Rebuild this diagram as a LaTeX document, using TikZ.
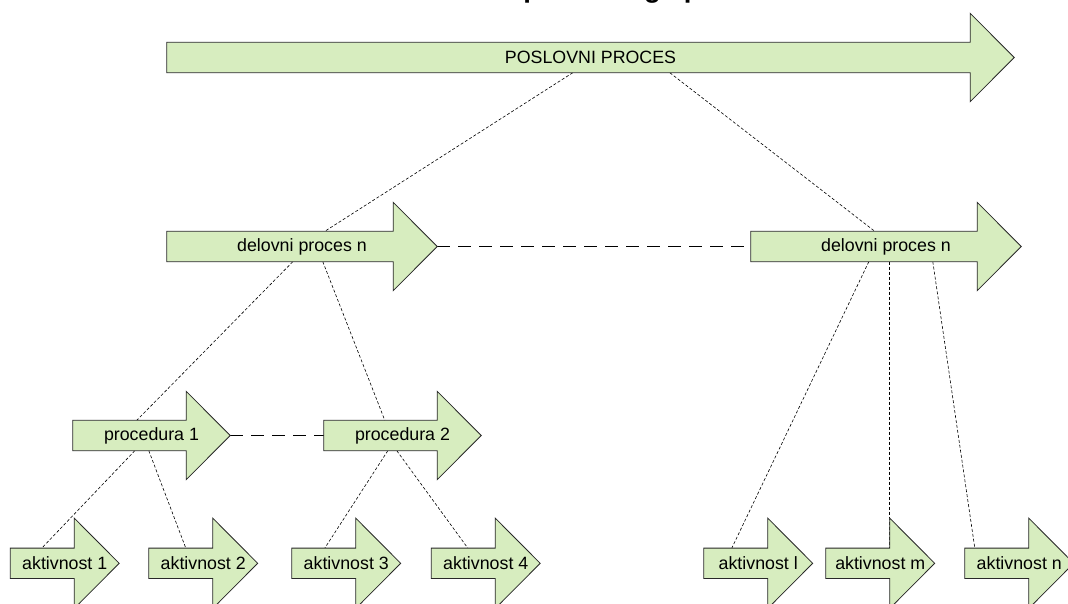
\documentclass[tikz,border=0pt]{standalone}
\usepackage{fontspec}
\setmainfont{Liberation Sans}
\pgfdeclarelayer{paper}
\pgfdeclarelayer{lines}
\pgfdeclarelayer{shapes}
\pgfsetlayers{paper,lines,shapes,main}
\definecolor{arrowfill}{RGB}{215,237,191}
\definecolor{arrowline}{RGB}{40,40,40}
\tikzset{
  lbl/.style={rectangle, inner sep=0pt, minimum height=30pt,
    font=\fontsize{17.8}{20}\selectfont},
  arrowbody/.style={fill=arrowfill, draw=arrowline, line width=0.8pt, line join=miter},
  link/.style={draw=black, line width=0.6pt, dash pattern=on 3pt off 2pt},
  peer/.style={draw=black, line width=1.3pt, dash pattern=on 13pt off 8pt},
}
% #1 name, #2 left x, #3 axis y, #4 total length, #5 head length,
% #6 head overhang beyond the body, #7 label
\newcommand\flowarrow[7]{%
  \node[lbl, minimum width=#4pt] (#1) at ({#2+#4/2},#3) {#7};
  \begin{pgfonlayer}{shapes}
    \draw[arrowbody] (#1.north west) -- ([xshift=-#5pt]#1.north east)
      -- ([xshift=-#5pt,yshift=#6pt]#1.north east) -- (#1.east)
      -- ([xshift=-#5pt,yshift=-#6pt]#1.south east)
      -- ([xshift=-#5pt]#1.south east) -- (#1.south west) -- cycle;
  \end{pgfonlayer}
}
\begin{document}
\begin{tikzpicture}[x=1pt, y=-1pt]
\useasboundingbox (0,0) rectangle (1068,603);
\begin{pgfonlayer}{paper}
  \fill[white] (0,0) rectangle (1068,603);
\end{pgfonlayer}

% heading, mostly above the page edge
\node[anchor=base, inner sep=0pt, font=\fontsize{27.5}{30}\selectfont\bfseries]
  (heading) at (599,-2.4) {Členitev poslovnega procesa};

% process levels
\flowarrow{pp}{167}{57.5}{847}{44}{29}{POSLOVNI PROCES}
\flowarrow{dpL}{167}{246.5}{270}{44}{29}{delovni proces n}
\flowarrow{dpR}{751}{246.5}{270}{44}{29}{delovni proces n}
\flowarrow{pr1}{73}{435.5}{157}{44}{29}{procedura 1}
\flowarrow{pr2}{324}{435.5}{157}{44}{29}{procedura 2}
\flowarrow{a1}{10.5}{563.3}{108.5}{45}{30}{aktivnost 1}
\flowarrow{a2}{149}{563.3}{108.5}{45}{30}{aktivnost 2}
\flowarrow{a3}{292}{563.3}{108.5}{45}{30}{aktivnost 3}
\flowarrow{a4}{431.5}{563.3}{108.5}{45}{30}{aktivnost 4}
\flowarrow{al}{704}{563.3}{108.5}{45}{30}{aktivnost l}
\flowarrow{am}{826}{563.3}{108.5}{45}{30}{aktivnost m}
\flowarrow{an}{965}{563.3}{108.5}{45}{30}{aktivnost n}

\begin{pgfonlayer}{lines}
  % hierarchy links
  \draw[link] ([xshift=406pt]pp.south west) -- ([xshift=158pt]dpL.north west);
  \draw[link] ([xshift=503pt]pp.south west) -- ([xshift=124pt]dpR.north west);
  \draw[link] ([xshift=126pt]dpL.south west) -- ([xshift=64pt]pr1.north west);
  \draw[link] ([xshift=156pt]dpL.south west) -- ([xshift=61pt]pr2.north west);
  \draw[link] ([xshift=62pt]pr1.south west) -- ([xshift=31.5pt]a1.north west);
  \draw[link] ([xshift=76pt]pr1.south west) -- ([xshift=37pt]a2.north west);
  \draw[link] ([xshift=64pt]pr2.south west) -- ([xshift=33pt]a3.north west);
  \draw[link] ([xshift=73pt]pr2.south west) -- ([xshift=36.5pt]a4.north west);
  \draw[link] ([xshift=118pt]dpR.south west) -- ([xshift=28pt]al.north west);
  \draw[link] ([xshift=138pt]dpR.south west) -- ([xshift=63pt]am.north west);
  \draw[link] ([xshift=182pt]dpR.south west) -- ([xshift=10pt]an.north west);
  % links between siblings
  \draw[peer] (dpL.east) -- (dpR.west);
  \draw[peer] (pr1.east) -- (pr2.west);
\end{pgfonlayer}
\end{tikzpicture}
\end{document}
